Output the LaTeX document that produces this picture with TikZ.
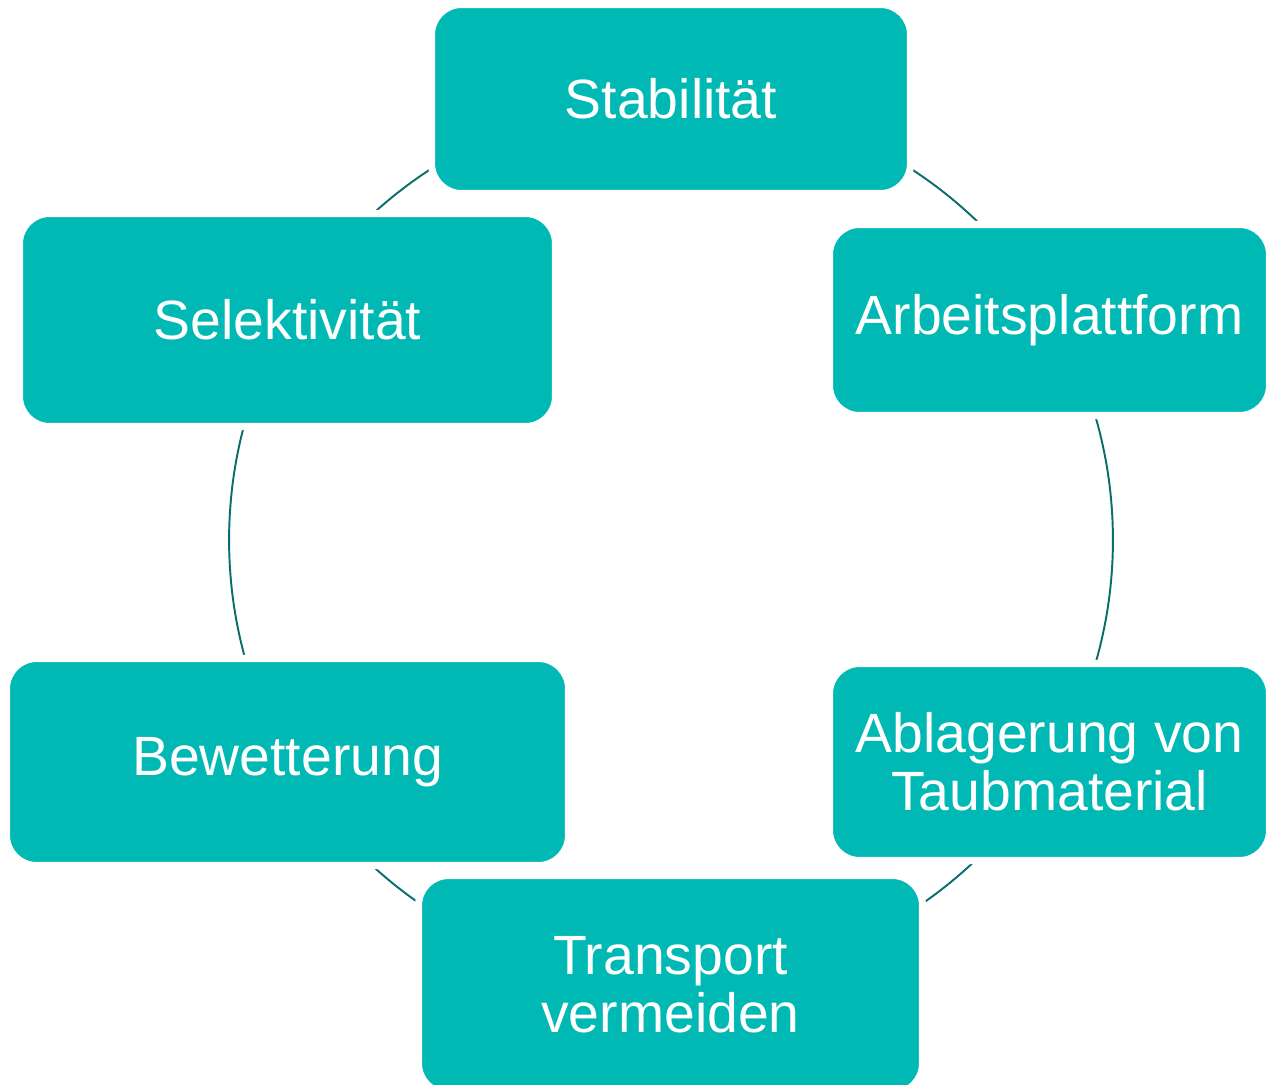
\documentclass[tikz,border=0pt]{standalone}
\usepackage{fontspec}
\setmainfont{Liberation Sans}
\definecolor{boxteal}{HTML}{00B8B4}
\definecolor{ringteal}{HTML}{0A6E6C}
\tikzset{
  stage/.style={rounded corners=0.6cm, fill=boxteal, draw=white, line width=4pt,
    text=white, align=center, inner sep=0pt,
    font=\fontsize{31.5}{33}\selectfont},
  ring/.style={ringteal, line width=1.1pt}
}
\begin{document}
\begin{tikzpicture}[x=0.02cm,y=-0.02cm]
\fill[white] (0,0) rectangle (1266,1084);
\useasboundingbox (0,0) rectangle (1266,1084);
% ring behind the boxes
\coordinate (mid) at (671,540);
\draw[ring] (mid) circle (8.84cm);
% boxes
\node[stage, minimum width=9.44cm+4pt, minimum height=3.64cm+4pt] (stab) at (671,99) {Stabilität};
\node[stage, minimum width=8.66cm+4pt, minimum height=3.68cm+4pt] (arb) at (1049.5,320) {Arbeitsplattform};
\node[stage, minimum width=8.66cm+4pt, minimum height=3.8cm+4pt] (abl) at (1049.5,762) {Ablagerung von\\Taubmaterial};
\node[stage, minimum width=9.94cm+4pt, minimum height=4.22cm+4pt] (trans) at (670.5,984.5) {Transport\\vermeiden};
\node[stage, minimum width=11.1cm+4pt, minimum height=4cm+4pt] (bew) at (287.5,762) {Bewetterung};
\node[stage, minimum width=10.58cm+4pt, minimum height=4.12cm+4pt] (sel) at (287.5,320) {Selektivität};
\end{tikzpicture}
\end{document}
